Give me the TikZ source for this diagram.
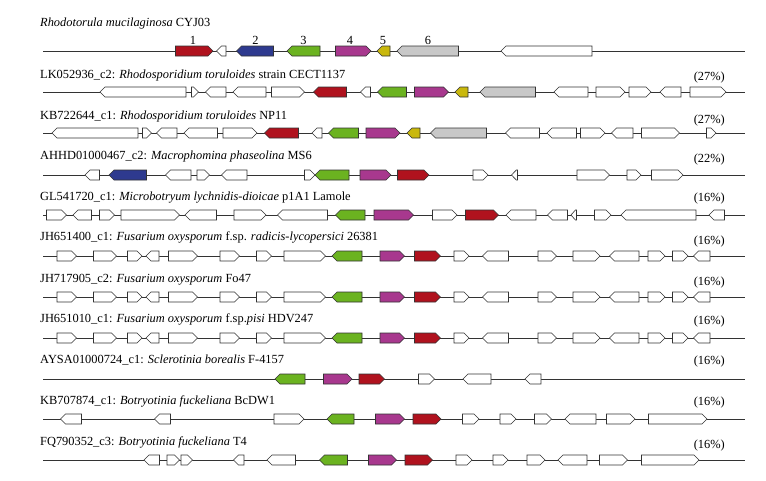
\documentclass[tikz,border=0pt]{standalone}
\usepackage{fontspec}
\setmainfont{Liberation Serif}
\definecolor{gred}{HTML}{B0121E}
\definecolor{gblue}{HTML}{2E3A8F}
\definecolor{ggreen}{HTML}{6BB320}
\definecolor{gmag}{HTML}{A8388E}
\definecolor{gyel}{HTML}{C9B80C}
\definecolor{ggrey}{HTML}{C8C8C8}
\definecolor{outl}{HTML}{333333}
\def\gh{5}
\def\tiplen{5}
\newcommand{\gR}[3]{\pgfmathsetmacro\gtip{min(\tiplen,0.8*(#2-#1))}%
  \filldraw[gene,fill=#3] (#1,-\gh) -- ({#2-\gtip},-\gh) -- (#2,0) -- ({#2-\gtip},\gh) -- (#1,\gh) -- cycle;}
\newcommand{\gL}[3]{\pgfmathsetmacro\gtip{min(\tiplen,0.8*(#2-#1))}%
  \filldraw[gene,fill=#3] (#2,-\gh) -- ({#1+\gtip},-\gh) -- (#1,0) -- ({#1+\gtip},\gh) -- (#2,\gh) -- cycle;}
\newcommand{\bbline}{\draw[bbl] (43,0) -- (745,0);}
\newcommand{\fusrow}{%
  \bbline
  \gR{57}{76.5}{white}\gR{93.5}{116.5}{white}\gR{127.5}{142}{white}\gL{146}{159}{white}
  \gR{168.5}{197.5}{white}\gR{220}{239.5}{white}\gR{256.5}{271.5}{white}\gR{284}{325.5}{white}
  \gL{332}{362}{ggreen}\gR{380}{404.5}{gmag}\gR{414.5}{440.5}{gred}
  \gR{454}{469}{white}\gL{482.5}{508.5}{white}\gR{538}{556.5}{white}\gR{573}{600}{white}
  \gL{609.5}{639}{white}\gR{648}{665}{white}\gR{672.5}{688}{white}\gL{693.5}{710}{white}}
\begin{document}
\begin{tikzpicture}[x=1pt,y=-1pt,
  gene/.style={draw=outl,line width=0.6pt,line join=miter},
  bbl/.style={draw=outl,line width=0.9pt},
  lab/.style={anchor=base west,inner sep=0pt,font=\fontsize{12.4}{14}\selectfont},
  pct/.style={anchor=base east,inner sep=0pt,font=\fontsize{12.4}{14}\selectfont},
  num/.style={anchor=base,inner sep=0pt,font=\fontsize{12.4}{14}\selectfont}]
\fill[white] (0,0) rectangle (766,480);
\useasboundingbox (0,0) rectangle (766,480);
% row 1
\node[lab] (t1) at (40,26) {\textit{Rhodotorula mucilaginosa} CYJ03};
\node[num] (n1) at (193,44) {1};
\node[num] (n2) at (255.5,44) {2};
\node[num] (n3) at (303.5,44) {3};
\node[num] (n4) at (350,44) {4};
\node[num] (n5) at (383,44) {5};
\node[num] (n6) at (428,44) {6};
\begin{scope}[shift={(0,51)}]
\bbline
\gR{175.5}{213}{gred}\gL{216.5}{226}{white}\gL{236.5}{273.5}{gblue}\gL{287}{320}{ggreen}
\gR{335.5}{371}{gmag}\gL{377}{390}{gyel}\gL{397}{458.5}{ggrey}\gL{501}{592}{white}
\end{scope}
% row 2
\node[lab] (t2) at (40,78) {LK052936\_c2: \textit{Rhodosporidium toruloides} strain CECT1137};
\node[pct] (p2) at (725,80) {(27\%)};
\begin{scope}[shift={(0,92)}]
\bbline
\gL{100}{186}{white}\gR{191.5}{198.5}{white}\gL{205.5}{226}{white}\gL{233}{266}{white}
\gR{271.5}{304.5}{white}\gL{313.5}{346.5}{gred}\gL{360.5}{370.5}{white}\gL{377.5}{406.5}{ggreen}
\gR{414.5}{448.5}{gmag}\gL{455}{468}{gyel}\gL{480}{535.5}{ggrey}\gL{554}{588}{white}
\gR{596}{625}{white}\gR{629}{651}{white}\gL{660}{681}{white}\gR{690}{726}{white}
\end{scope}
% row 3
\node[lab] (t3) at (40,119) {KB722644\_c1: \textit{Rhodosporidium toruloides} NP11};
\node[pct] (p3) at (725,123) {(27\%)};
\begin{scope}[shift={(0,133)}]
\bbline
\gL{52}{138}{white}\gR{142.5}{151.5}{white}\gL{156.5}{177}{white}\gL{184}{217.5}{white}
\gR{223}{257}{white}\gL{264.5}{298.5}{gred}\gL{312}{322}{white}\gL{328.5}{358.5}{ggreen}
\gR{366}{400}{gmag}\gL{407}{420}{gyel}\gL{430.5}{486.5}{ggrey}\gL{505.5}{539.5}{white}
\gL{547}{576.5}{white}\gR{580.5}{605}{white}\gL{611.5}{633}{white}\gR{641.5}{679.5}{white}
\gR{706.5}{716}{white}
\end{scope}
% row 4
\node[lab] (t4) at (40,159) {AHHD01000467\_c2: \textit{Macrophomina phaseolina} MS6};
\node[pct] (p4) at (725,162) {(22\%)};
\begin{scope}[shift={(0,175)}]
\bbline
\gL{85}{99.5}{white}\gL{109}{146.5}{gblue}\gL{165.5}{191}{white}\gR{197}{209.5}{white}
\gL{221.5}{247}{white}\gR{304.5}{315}{white}\gL{315}{349}{ggreen}\gR{360}{391}{gmag}
\gR{397.5}{429}{gred}\gR{473}{488}{white}\gL{511.5}{517.5}{white}\gR{577}{609.5}{white}
\gR{627}{641}{white}\gR{651.5}{683}{white}
\end{scope}
% row 5
\node[lab] (t5) at (40,200) {GL541720\_c1: \textit{Microbotryum lychnidis-dioicae} p1A1 Lamole};
\node[pct] (p5) at (725,201) {(16\%)};
\begin{scope}[shift={(0,215)}]
\bbline
\gR{46.5}{66.5}{white}\gL{73}{91.5}{white}\gR{99.5}{114.5}{white}\gR{121}{179.5}{white}
\gL{185}{216.5}{white}\gR{234}{266}{white}\gL{277.5}{327.5}{white}\gL{335.5}{365}{ggreen}
\gR{374}{413.5}{gmag}\gR{432.5}{457}{white}\gR{465.5}{498.5}{gred}\gL{506}{536}{white}
\gL{547.5}{567.5}{white}\gL{571}{576.5}{white}\gR{594.5}{611}{white}\gL{621}{696}{white}
\gL{709}{724.5}{white}
\end{scope}
% row 6
\node[lab] (t6) at (40,240) {JH651400\_c1: \textit{Fusarium oxysporum} f.sp. \textit{radicis-lycopersici} 26381};
\node[pct] (p6) at (725,244) {(16\%)};
\begin{scope}[shift={(0,256)}]
\fusrow
\end{scope}
% row 7
\node[lab] (t7) at (40,282) {JH717905\_c2: \textit{Fusarium oxysporum} Fo47};
\node[pct] (p7) at (725,285) {(16\%)};
\begin{scope}[shift={(0,297)}]
\fusrow
\end{scope}
% row 8
\node[lab] (t8) at (40,322) {JH651010\_c1: \textit{Fusarium oxysporum} f.sp.\textit{pisi} HDV247};
\node[pct] (p8) at (725,324) {(16\%)};
\begin{scope}[shift={(0,338)}]
\fusrow
\end{scope}
% row 9
\node[lab] (t9) at (40,363) {AYSA01000724\_c1: \textit{Sclerotinia borealis} F-4157};
\node[pct] (p9) at (725,364) {(16\%)};
\begin{scope}[shift={(0,379)}]
\bbline
\gL{275}{305}{ggreen}\gR{323.5}{352}{gmag}\gR{359}{384.5}{gred}\gR{418.5}{434.5}{white}
\gL{463}{491}{white}\gL{525}{541}{white}
\end{scope}
% row 10
\node[lab] (t10) at (40,404) {KB707874\_c1: \textit{Botryotinia fuckeliana} BcDW1};
\node[pct] (p10) at (725,405) {(16\%)};
\begin{scope}[shift={(0,419)}]
\bbline
\gL{60.5}{81.5}{white}\gL{154.5}{170.5}{white}\gR{274}{304}{white}\gL{327}{354}{ggreen}
\gR{375.5}{404.5}{gmag}\gR{413}{441}{gred}\gR{462.5}{479}{white}\gR{500}{516}{white}
\gR{534.5}{551.5}{white}\gL{565}{596}{white}\gR{606.5}{635}{white}\gR{648.5}{707}{white}
\end{scope}
% row 11
\node[lab] (t11) at (40,445) {FQ790352\_c3: \textit{Botryotinia fuckeliana} T4};
\node[pct] (p11) at (725,448) {(16\%)};
\begin{scope}[shift={(0,460)}]
\bbline
\gL{144}{159.5}{white}\gR{167}{179.5}{white}\gR{181}{192.5}{white}\gL{233.5}{244}{white}
\gL{267}{295.5}{white}\gL{319.5}{347.5}{ggreen}\gR{368.5}{396.5}{gmag}\gR{405}{432.5}{gred}
\gR{456}{472}{white}\gR{493}{508}{white}\gR{527}{545}{white}\gL{558}{587}{white}
\gR{599.5}{627.5}{white}\gR{641.5}{699}{white}
\end{scope}
\end{tikzpicture}
\end{document}
